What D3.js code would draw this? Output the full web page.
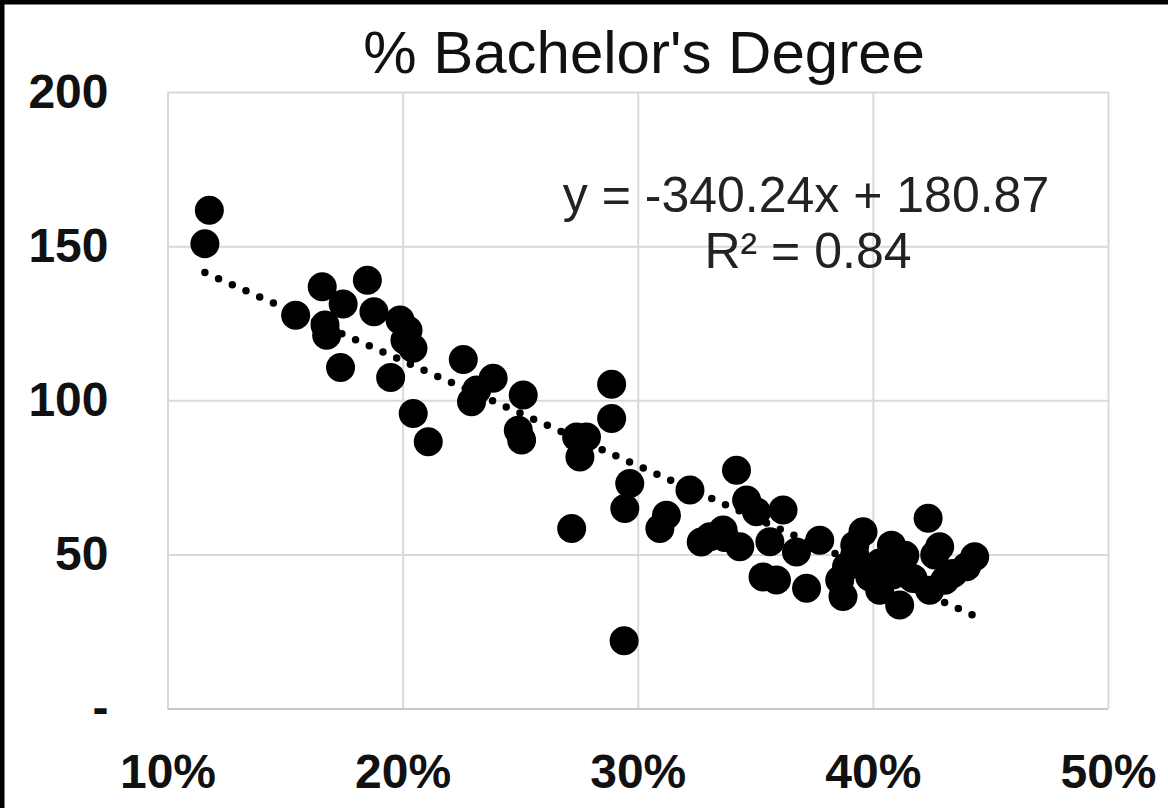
<!DOCTYPE html>
<html>
<head>
<meta charset="utf-8">
<script src="https://cdn.jsdelivr.net/npm/d3@7"></script>
<style>
  html, body { margin: 0; padding: 0; background: #fff; }
  svg { display: block; }
</style>
</head>
<body>
<svg id="chart" width="1168" height="808"></svg>
<script>
// ---- data ----
const chartTitle = "% Bachelor's Degree";
const xTicks = [0.1, 0.2, 0.3, 0.4, 0.5];
const yTicks = [0, 50, 100, 150, 200];
const trendSlope = -340.24;
const trendIntercept = 180.87;
const rSquared = 0.84;

const bachelorPct = [
  0.1178, 0.1159, 0.1545, 0.1658, 0.1670, 0.1677, 0.1747, 0.1736, 0.1850, 0.1878,
  0.1989, 0.2023, 0.2010, 0.2044, 0.1949, 0.2045, 0.2109, 0.2258, 0.2385, 0.2315,
  0.2293, 0.2513, 0.2492, 0.2506, 0.2740, 0.2782, 0.2754, 0.2889, 0.2889, 0.2719,
  0.2942, 0.2966, 0.2945, 0.3122, 0.3094, 0.3222, 0.3420, 0.3463, 0.3505, 0.3618,
  0.3307, 0.3363, 0.3434, 0.3562, 0.3675, 0.3774, 0.3533, 0.3590, 0.3718, 0.3888,
  0.3873, 0.3958, 0.4079, 0.4235, 0.4284, 0.4433, 0.4114, 0.3987, 0.4171, 0.4341,
  0.4398, 0.4242, 0.4029, 0.3859, 0.3923, 0.4114, 0.3270, 0.3370, 0.3923, 0.4136,
  0.4263, 0.4306, 0.4029, 0.4084
];
const values = [
  161.6, 150.8, 127.6, 136.8, 124.4, 121.1, 131.2, 110.6, 138.9, 128.7,
  126.0, 122.7, 119.5, 116.9, 107.4, 95.7, 86.5, 113.2, 107.1, 103.3,
  99.5, 101.7, 90.3, 87.1, 88.1, 88.1, 81.6, 105.2, 94.1, 58.4,
  22.0, 73.0, 64.9, 62.7, 58.4, 70.9, 77.3, 67.6, 63.8, 64.4,
  55.7, 57.9, 52.5, 54.1, 50.8, 54.6, 42.7, 41.7, 39.0, 46.0,
  36.3, 57.3, 53.0, 61.7, 52.5, 49.2, 33.6, 42.7, 42.2, 43.8,
  46.0, 38.4, 47.2, 41.7, 49.9, 48.2, 54.0, 55.5, 53.0, 49.7,
  49.8, 41.6, 38.4, 43.3
];

// ---- layout ----
const svg = d3.select("#chart");
const W = 1168, H = 808;
const x = d3.scaleLinear().domain([0.1, 0.5]).range([167.5, 1108]);
const y = d3.scaleLinear().domain([0, 200]).range([708.5, 92]);
const fontFam = "'Liberation Sans', Arial, Helvetica, sans-serif";

svg.append("rect").attr("width", W).attr("height", H).attr("fill", "#fff");

// vertical gridlines
svg.append("g")
  .attr("transform", `translate(0,${y(0)})`)
  .call(d3.axisBottom(x).tickValues(xTicks).tickSize(-(y(0) - y(200))).tickFormat(""))
  .call(g => g.select(".domain").remove())
  .call(g => g.selectAll("line").attr("stroke", "#d9d9d9").attr("stroke-width", 2));

// horizontal gridlines
svg.append("g")
  .attr("transform", `translate(${x(0.1)},0)`)
  .call(d3.axisLeft(y).tickValues(yTicks).tickSize(-(x(0.5) - x(0.1))).tickFormat(""))
  .call(g => g.select(".domain").remove())
  .call(g => g.selectAll("line").attr("stroke", (d) => d === 0 ? "#c8c8c8" : "#d9d9d9").attr("stroke-width", 2));

// x axis labels
svg.append("g")
  .attr("transform", `translate(0,${y(0)})`)
  .call(d3.axisBottom(x).tickValues(xTicks).tickSize(0).tickPadding(45).tickFormat(d3.format(".0%")))
  .call(g => g.select(".domain").remove())
  .call(g => g.selectAll("text")
    .attr("font-family", fontFam).attr("font-weight", "bold")
    .attr("font-size", 48).attr("fill", "#111"));

// y axis labels
svg.append("g")
  .attr("transform", `translate(${x(0.1)},0)`)
  .call(d3.axisLeft(y).tickValues(yTicks).tickSize(0).tickPadding(59)
    .tickFormat(d => d === 0 ? "-" : d3.format("d")(d)))
  .call(g => g.select(".domain").remove())
  .call(g => g.selectAll("text")
    .attr("font-family", fontFam).attr("font-weight", "bold")
    .attr("font-size", 48).attr("fill", "#111"));

// points
const pts = bachelorPct.map((v, i) => ({ x: v, y: values[i] }));
svg.append("g")
  .selectAll("circle")
  .data(pts)
  .join("circle")
  .attr("cx", d => x(d.x))
  .attr("cy", d => y(d.y))
  .attr("r", 14.5)
  .attr("fill", "#000");

// trendline (dotted)
const [xmin, xmax] = d3.extent(bachelorPct);
const line = d3.line().x(d => x(d)).y(d => y(trendSlope * d + trendIntercept));
svg.append("path")
  .datum([xmin, xmax])
  .attr("d", line)
  .attr("fill", "none")
  .attr("stroke", "#000")
  .attr("stroke-width", 7.5)
  .attr("stroke-linecap", "round")
  .attr("stroke-dasharray", "0 15");

// title
svg.append("text")
  .attr("x", 644).attr("y", 73)
  .attr("text-anchor", "middle")
  .attr("font-family", fontFam)
  .attr("font-size", 60)
  .attr("fill", "#111")
  .text(chartTitle);

// equation
const eq = svg.append("text")
  .attr("text-anchor", "middle")
  .attr("font-family", fontFam)
  .attr("font-size", 50)
  .attr("fill", "#222");
eq.append("tspan").attr("x", 806).attr("y", 212)
  .text(`y = ${trendSlope.toFixed(2)}x + ${trendIntercept.toFixed(2)}`);
eq.append("tspan").attr("x", 808).attr("y", 268)
  .text(`R² = ${rSquared.toFixed(2)}`);

// outer frame (top & left visible)
svg.append("line").attr("x1", 0).attr("y1", 2).attr("x2", W).attr("y2", 2)
  .attr("stroke", "#000").attr("stroke-width", 5);
svg.append("line").attr("x1", 2).attr("y1", 0).attr("x2", 2).attr("y2", H)
  .attr("stroke", "#000").attr("stroke-width", 5);
</script>
</body>
</html>
